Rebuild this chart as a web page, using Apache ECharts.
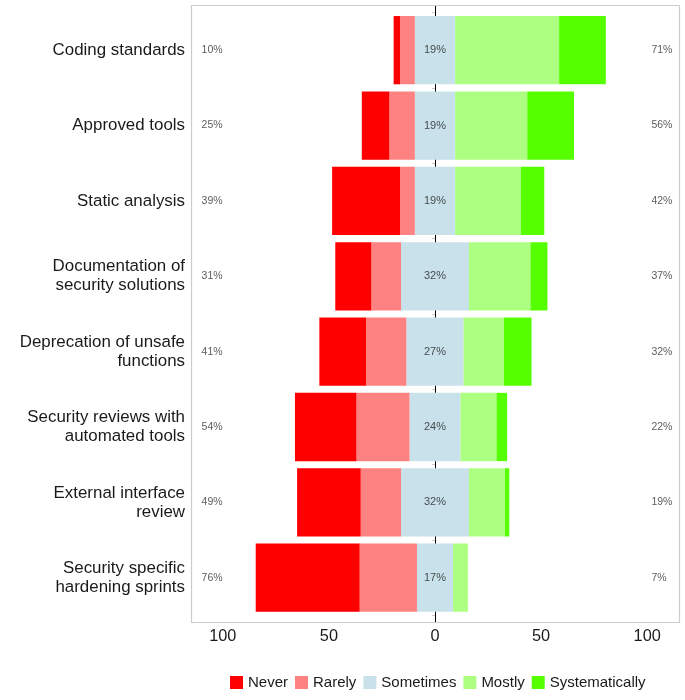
<!DOCTYPE html>
<html>
<head>
<meta charset="utf-8">
<script src="https://cdn.jsdelivr.net/npm/echarts@6/dist/echarts.min.js"></script>
<style>
html,body{margin:0;padding:0;background:#fff;}
#chart{width:685px;height:700px;}
</style>
</head>
<body>
<div id="chart"></div>
<script>
const categories = [
  'Coding standards',
  'Approved tools',
  'Static analysis',
  'Documentation of\nsecurity solutions',
  'Deprecation of unsafe\nfunctions',
  'Security reviews with\nautomated tools',
  'External interface\nreview',
  'Security specific\nhardening sprints'
];
const never          = [3, 13, 32, 17, 22, 29, 30, 49];
const rarely         = [7, 12, 7, 14, 19, 25, 19, 27];
const sometimes      = [19, 19, 19, 32, 27, 24, 32, 17];
const mostly         = [49, 34, 31, 29, 19, 17, 17, 7];
const systematically = [22, 22, 11, 8, 13, 5, 2, 0];
const tickValues = [-100, -50, 0, 50, 100];
const levels = ['Never', 'Rarely', 'Sometimes', 'Mostly', 'Systematically'];

const FONT = '"Liberation Sans", Arial, Helvetica, sans-serif';
const colors = {
  Never: '#FF0000',
  Rarely: '#FF8282',
  Sometimes: '#C8E1EA',
  Mostly: '#ADFF82',
  Systematically: '#55FF00'
};

const lowTotals = never.map((v, i) => v + rarely[i]);
const highTotals = mostly.map((v, i) => v + systematically[i]);

function barSeries(name, values, sign) {
  return {
    name: name,
    type: 'bar',
    stack: 'likert',
    barWidth: '90.6%',
    z: 3,
    itemStyle: { color: colors[name] },
    emphasis: { disabled: true },
    data: values.map(v => sign * v)
  };
}
function labelSeries(xVal, texts, pos, color, size) {
  return {
    type: 'scatter',
    symbolSize: 0,
    z: 6,
    silent: true,
    data: texts.map((t, i) => ({ value: [xVal, i], txt: t })),
    label: {
      show: true,
      position: pos,
      distance: 0,
      formatter: p => p.data.txt + '%',
      fontFamily: FONT,
      fontSize: size,
      color: color
    }
  };
}

const chart = echarts.init(document.getElementById('chart'), null, { renderer: 'canvas' });
const option = {
  animation: false,
  backgroundColor: '#ffffff',
  textStyle: { fontFamily: FONT },
  grid: { left: 191, right: 6, top: 12.5, bottom: 84.6, containLabel: false },
  xAxis: {
    type: 'value',
    min: -115,
    max: 115,
    axisLine: { show: false },
    axisTick: { show: false },
    splitLine: { show: false },
    axisLabel: {
      customValues: tickValues,
      formatter: v => String(Math.abs(v)),
      fontFamily: FONT,
      fontSize: 16.3,
      color: '#1a1a1a',
      margin: 13
    }
  },
  yAxis: {
    type: 'category',
    inverse: true,
    data: categories,
    axisLine: { show: false },
    axisTick: { show: true, length: 3, lineStyle: { color: '#cccccc' } },
    splitLine: { show: false },
    axisLabel: {
      fontFamily: FONT,
      fontSize: 16.9,
      lineHeight: 19,
      color: '#1a1a1a',
      margin: 6,
      align: 'right'
    }
  },
  legend: {
    data: levels,
    left: 230,
    top: 675,
    padding: 0,
    orient: 'horizontal',
    itemWidth: 13,
    itemHeight: 13,
    itemGap: 7,
    icon: 'rect',
    selectedMode: false,
    textStyle: { fontFamily: FONT, fontSize: 15, color: '#1a1a1a' }
  },
  series: [
    {
      type: 'line',
      z: 1,
      silent: true,
      data: [],
      markLine: {
        z: 1,
        silent: true,
        symbol: 'none',
        label: { show: false },
        lineStyle: { color: '#000000', width: 1, type: 'solid' },
        emphasis: { disabled: true },
        data: [{ xAxis: 0 }]
      }
    },
    barSeries('Sometimes', sometimes.map(v => v / 2), -1),
    barSeries('Sometimes', sometimes.map(v => v / 2), 1),
    barSeries('Rarely', rarely, -1),
    barSeries('Mostly', mostly, 1),
    barSeries('Never', never, -1),
    barSeries('Systematically', systematically, 1),
    labelSeries(-110, lowTotals, 'right', '#333333', 10.5),
    labelSeries(102, highTotals, 'right', '#333333', 10.5),
    labelSeries(0, sometimes, 'inside', '#262626', 11)
  ]
};
chart.setOption(option);

const x0 = Math.round(chart.convertToPixel({ gridIndex: 0 }, [0, 0])[0]) + 0.5;
chart.setOption({
  graphic: [
    {
      type: 'line',
      silent: true,
      shape: { x1: x0, y1: 5, x2: x0, y2: 13 },
      style: { stroke: '#000000', lineWidth: 1 }
    },
    {
      type: 'line',
      silent: true,
      shape: { x1: x0, y1: 615, x2: x0, y2: 622 },
      style: { stroke: '#000000', lineWidth: 1 }
    },
    {
      type: 'rect',
      silent: true,
      shape: { x: 191.5, y: 5.5, width: 488, height: 617 },
      style: { fill: null, stroke: '#cccccc', lineWidth: 1.2 }
    }
  ]
});
</script>
</body>
</html>
